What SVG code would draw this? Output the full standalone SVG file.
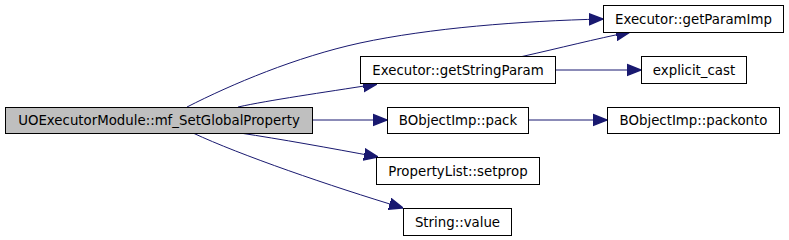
<svg xmlns="http://www.w3.org/2000/svg" width="789" height="240" viewBox="0 0 789 240">
<defs>
<style>
.n rect{fill:#ffffff;stroke:#000000;stroke-width:1}
.n.main rect{fill:#bfbfbf}
.n text{font-family:"DejaVu Sans",sans-serif;font-size:13.33px;fill:#000000;text-anchor:middle}
.e path{fill:none;stroke:#191970;stroke-width:1}
</style>
<marker id="ah" viewBox="0 0 10 10" refX="10" refY="5" markerWidth="14" markerHeight="14" markerUnits="userSpaceOnUse" orient="auto">
<path d="M0,1 L10,5 L0,9 Z" fill="#191970" stroke="#191970"/>
</marker>
</defs>
<rect width="789" height="240" fill="#ffffff"/>
<g id="connectors" class="e">
<path d="M187,107 C232,84 296,57 360,43 C430,28 520,21 603,19" marker-end="url(#ah)"/>
<path d="M238,107 C270,100 320,93 377,84" marker-end="url(#ah)"/>
<path d="M522,56.5 C560,48 595,39 630,32" marker-end="url(#ah)"/>
<path d="M555,70 L641,70" marker-end="url(#ah)"/>
<path d="M312,120 L387,120" marker-end="url(#ah)"/>
<path d="M528,120 L607,120" marker-end="url(#ah)"/>
<path d="M240,133 C280,139 330,148 378,157" marker-end="url(#ah)"/>
<path d="M193,133 C240,155 330,186 403,208" marker-end="url(#ah)"/>
</g>
<g id="node_main" class="n main">
<rect x="5.5" y="107.5" width="307" height="26"/>
<text x="159" y="125">UOExecutorModule::mf_SetGlobalProperty</text>
</g>
<g id="node_getParamImp" class="n">
<rect x="603.5" y="5.5" width="180" height="27"/>
<text x="693.5" y="24">Executor::getParamImp</text>
</g>
<g id="node_getStringParam" class="n">
<rect x="360.5" y="56.5" width="195" height="27"/>
<text x="458" y="75">Executor::getStringParam</text>
</g>
<g id="node_explicit_cast" class="n">
<rect x="641.5" y="56.5" width="105" height="27"/>
<text x="694" y="75">explicit_cast</text>
</g>
<g id="node_pack" class="n">
<rect x="387.5" y="107.5" width="141" height="26"/>
<text x="458" y="125">BObjectImp::pack</text>
</g>
<g id="node_packonto" class="n">
<rect x="607.5" y="107.5" width="172" height="26"/>
<text x="693.5" y="125">BObjectImp::packonto</text>
</g>
<g id="node_setprop" class="n">
<rect x="376.5" y="157.5" width="163" height="27"/>
<text x="458" y="176">PropertyList::setprop</text>
</g>
<g id="node_value" class="n">
<rect x="403.5" y="208.5" width="108" height="27"/>
<text x="457.5" y="227">String::value</text>
</g>
</svg>
